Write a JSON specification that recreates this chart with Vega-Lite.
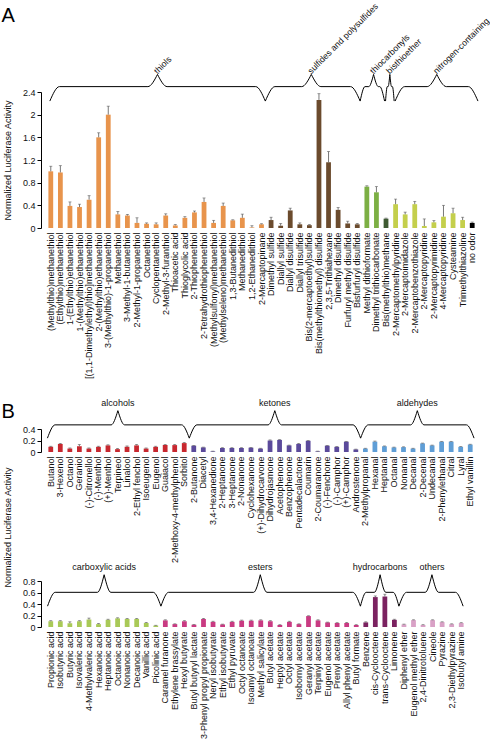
{
 "$schema": "https://vega.github.io/schema/vega-lite/v6.json",
 "background": "white",
 "padding": {"left": 1, "top": 2, "right": 0, "bottom": 0},
 "config": {
  "font": "Liberation Sans",
  "view": {"stroke": null},
  "axis": {"labelFont": "Liberation Sans", "labelFontSize": 9, "labelColor": "#111", "titleFont": "Liberation Sans", "titleFontSize": 9, "titleFontWeight": "normal", "titleColor": "#111", "domainColor": "#000", "tickColor": "#000", "grid": false, "labelOverlap": false},
  "axisY": {"labelOverlap": false, "labelFlush": false, "labelBound": false},
  "title": {"font": "Liberation Sans", "fontSize": 20, "fontWeight": "normal", "anchor": "start", "color": "#000"}
 },
 "datasets": {
  "A": [
   {"name":"(Methylthio)methanethiol","group":"thiols","value":1.0,"err":1.09},
   {"name":"(Ethylthio)methanethiol","group":"thiols","value":0.98,"err":1.1},
   {"name":"1-(Ethylthio)ethanethiol","group":"thiols","value":0.39,"err":0.46},
   {"name":"1-(Methylthio)ethanethiol","group":"thiols","value":0.37,"err":0.42},
   {"name":"[(1,1-Dimethylethyl)thio]methanethiol","group":"thiols","value":0.5,"err":0.57},
   {"name":"2-(Methylthio)ethanethiol","group":"thiols","value":1.6,"err":1.68},
   {"name":"3-(Methylthio)-1-propanethiol","group":"thiols","value":2.0,"err":2.15},
   {"name":"Methanethiol","group":"thiols","value":0.24,"err":0.29},
   {"name":"3-Methyl-1-butanethiol","group":"thiols","value":0.22,"err":0.24},
   {"name":"2-Methyl-1-propanethiol","group":"thiols","value":0.09,"err":0.18},
   {"name":"Octanethiol","group":"thiols","value":0.075,"err":0.09},
   {"name":"Cyclopentanethiol","group":"thiols","value":0.065,"err":0.09},
   {"name":"2-Methyl-3-furanthiol","group":"thiols","value":0.22,"err":0.25},
   {"name":"Thioacetic acid","group":"thiols","value":0.045,"err":0.06},
   {"name":"Thioglycolic acid","group":"thiols","value":0.18,"err":0.2},
   {"name":"2-Thiophenethiol","group":"thiols","value":0.275,"err":0.3},
   {"name":"2-Tetrahydrothiophenethiol","group":"thiols","value":0.46,"err":0.53},
   {"name":"(Methylsulfonyl)methanethiol","group":"thiols","value":0.09,"err":0.135},
   {"name":"(Methylseleno)methanethiol","group":"thiols","value":0.39,"err":0.44},
   {"name":"1,3-Butanedithiol","group":"thiols","value":0.135,"err":0.145},
   {"name":"Methanedithiol","group":"thiols","value":0.18,"err":0.245},
   {"name":"1,2-Ethanedithiol","group":"thiols","value":0.01,"err":0.04},
   {"name":"2-Mercaptopinane","group":"thiols","value":0.065,"err":0.075},
   {"name":"Dimethyl sulfide","group":"sulfides and polysulfides","value":0.14,"err":0.19},
   {"name":"Diallyl sulfide","group":"sulfides and polysulfides","value":0.04,"err":0.08},
   {"name":"Diallyl disulfide","group":"sulfides and polysulfides","value":0.31,"err":0.35},
   {"name":"Diallyl trisulfide","group":"sulfides and polysulfides","value":0.065,"err":0.09},
   {"name":"Bis(2-mercaptoethyl)sulfide","group":"sulfides and polysulfides","value":0.05,"err":0.06},
   {"name":"Bis(methylthiomethyl) disulfide","group":"sulfides and polysulfides","value":2.26,"err":2.37},
   {"name":"2,3,5-Trithiahexane","group":"sulfides and polysulfides","value":1.16,"err":1.35},
   {"name":"Dimethyl disulfide","group":"sulfides and polysulfides","value":0.32,"err":0.36},
   {"name":"Furfuryl methyl disulfide","group":"sulfides and polysulfides","value":0.08,"err":0.12},
   {"name":"Bisfurfuryl disulfide","group":"sulfides and polysulfides","value":0.065,"err":0.08},
   {"name":"Methyl dithioformate","group":"thiocarbonyls","value":0.73,"err":0.745},
   {"name":"Dimethyl trithiocarbonate","group":"thiocarbonyls","value":0.63,"err":0.73},
   {"name":"Bis(methylthio)methane","group":"bisthioether","value":0.165,"err":0.175},
   {"name":"2-Mercaptomethylpyridine","group":"nitrogen-containing","value":0.42,"err":0.51},
   {"name":"2-Mercaptoimidazole","group":"nitrogen-containing","value":0.24,"err":0.28},
   {"name":"2-Mercaptobenzothiazole","group":"nitrogen-containing","value":0.42,"err":0.47},
   {"name":"2-Mercaptopyridine","group":"nitrogen-containing","value":0.035,"err":0.16},
   {"name":"2-Mercaptopyrimidine","group":"nitrogen-containing","value":0.1,"err":0.13},
   {"name":"4-Mercaptopyridine","group":"nitrogen-containing","value":0.2,"err":0.4},
   {"name":"Cysteamine","group":"nitrogen-containing","value":0.26,"err":0.35},
   {"name":"Trimethylthiazoline","group":"nitrogen-containing","value":0.14,"err":0.19},
   {"name":"no odor","group":"no odor","value":0.09,"err":0.105}
  ],
  "B1": [
   {"name":"Butanol","group":"alcohols","value":0.09,"err":0.1},
   {"name":"3-Hexenol","group":"alcohols","value":0.14,"err":0.15},
   {"name":"Octanol","group":"alcohols","value":0.06,"err":0.07},
   {"name":"Geraniol","group":"alcohols","value":0.1,"err":0.13},
   {"name":"(-)-Citronellol","group":"alcohols","value":0.06,"err":0.07},
   {"name":"(-)-Menthol","group":"alcohols","value":0.09,"err":0.1},
   {"name":"(+)-Menthol","group":"alcohols","value":0.115,"err":0.125},
   {"name":"Terpineol","group":"alcohols","value":0.05,"err":0.06},
   {"name":"Linalool","group":"alcohols","value":0.09,"err":0.105},
   {"name":"2-Ethyl fenchol","group":"alcohols","value":0.115,"err":0.13},
   {"name":"Isoeugenol","group":"alcohols","value":0.06,"err":0.07},
   {"name":"Eugenol","group":"alcohols","value":0.09,"err":0.1},
   {"name":"Guaiacol","group":"alcohols","value":0.12,"err":0.13},
   {"name":"2-Methoxy-4-methylphenol","group":"alcohols","value":0.12,"err":0.13},
   {"name":"Sorbitol","group":"alcohols","value":0.155,"err":0.165},
   {"name":"2-Butanone","group":"ketones","value":0.11,"err":0.115},
   {"name":"Diacetyl","group":"ketones","value":0.08,"err":0.085},
   {"name":"3,4-Hexanedione","group":"ketones","value":0.01,"err":0.015},
   {"name":"2-Heptanone","group":"ketones","value":0.07,"err":0.075},
   {"name":"3-Heptanone","group":"ketones","value":0.07,"err":0.075},
   {"name":"2-Nonanone","group":"ketones","value":0.07,"err":0.075},
   {"name":"Cyclohexanone","group":"ketones","value":0.075,"err":0.08},
   {"name":"(+)-Dihydrocarvone","group":"ketones","value":0.06,"err":0.065},
   {"name":"Dihydrojasmone","group":"ketones","value":0.2,"err":0.21},
   {"name":"Acetophenone","group":"ketones","value":0.21,"err":0.215},
   {"name":"Benzophenone","group":"ketones","value":0.115,"err":0.12},
   {"name":"Pentadecalactone","group":"ketones","value":0.14,"err":0.15},
   {"name":"Coumarin","group":"ketones","value":0.195,"err":0.2},
   {"name":"2-Coumaranone","group":"ketones","value":0.01,"err":0.015},
   {"name":"(-)-Fenchone","group":"ketones","value":0.11,"err":0.115},
   {"name":"(-)-Camphor","group":"ketones","value":0.09,"err":0.095},
   {"name":"(+)-Camphor","group":"ketones","value":0.18,"err":0.185},
   {"name":"Androstenone","group":"ketones","value":0.045,"err":0.05},
   {"name":"2-Methylpropanal","group":"aldehydes","value":0.06,"err":0.065},
   {"name":"Hexanal","group":"aldehydes","value":0.18,"err":0.19},
   {"name":"Heptanal","group":"aldehydes","value":0.1,"err":0.105},
   {"name":"Octanal","group":"aldehydes","value":0.08,"err":0.085},
   {"name":"Nonanal","group":"aldehydes","value":0.085,"err":0.09},
   {"name":"Decanal","group":"aldehydes","value":0.06,"err":0.065},
   {"name":"2-Decenal","group":"aldehydes","value":0.15,"err":0.155},
   {"name":"Undecanal","group":"aldehydes","value":0.115,"err":0.12},
   {"name":"2-Phenylethanal","group":"aldehydes","value":0.18,"err":0.185},
   {"name":"Citral","group":"aldehydes","value":0.18,"err":0.185},
   {"name":"Lyral","group":"aldehydes","value":0.09,"err":0.095},
   {"name":"Ethyl vanillin","group":"aldehydes","value":0.13,"err":0.135}
  ],
  "B2": [
   {"name":"Propionic acid","group":"carboxylic acids","value":0.1,"err":0.11},
   {"name":"Isobutyric acid","group":"carboxylic acids","value":0.1,"err":0.11},
   {"name":"Butyric acid","group":"carboxylic acids","value":0.065,"err":0.09},
   {"name":"Isovaleric acid","group":"carboxylic acids","value":0.1,"err":0.11},
   {"name":"4-Methylvaleric acid","group":"carboxylic acids","value":0.13,"err":0.155},
   {"name":"Hexanoic acid","group":"carboxylic acids","value":0.05,"err":0.06},
   {"name":"Heptanoic acid","group":"carboxylic acids","value":0.125,"err":0.135},
   {"name":"Octanoic acid","group":"carboxylic acids","value":0.15,"err":0.16},
   {"name":"Nonanoic acid","group":"carboxylic acids","value":0.14,"err":0.15},
   {"name":"Decanoic acid","group":"carboxylic acids","value":0.14,"err":0.15},
   {"name":"Vanillic acid","group":"carboxylic acids","value":0.07,"err":0.08},
   {"name":"Picolinic acid","group":"carboxylic acids","value":0.025,"err":0.03},
   {"name":"Caramel furanone","group":"esters","value":0.115,"err":0.125},
   {"name":"Ethylene brassylate","group":"esters","value":0.05,"err":0.055},
   {"name":"Hexyl butyrate","group":"esters","value":0.1,"err":0.11},
   {"name":"Butyl butyryl lactate","group":"esters","value":0.04,"err":0.045},
   {"name":"3-Phenyl propyl propionate","group":"esters","value":0.14,"err":0.15},
   {"name":"Neryl isobutyrate","group":"esters","value":0.09,"err":0.1},
   {"name":"Ethyl isobutyrate","group":"esters","value":0.045,"err":0.05},
   {"name":"Ethyl pyruvate","group":"esters","value":0.09,"err":0.1},
   {"name":"Octyl octanoate","group":"esters","value":0.11,"err":0.12},
   {"name":"Isoamyl octanoate","group":"esters","value":0.11,"err":0.12},
   {"name":"Methyl salicylate","group":"esters","value":0.115,"err":0.125},
   {"name":"Butyl acetate","group":"esters","value":0.1,"err":0.11},
   {"name":"Heptyl acetate","group":"esters","value":0.035,"err":0.04},
   {"name":"Octyl acetate","group":"esters","value":0.09,"err":0.1},
   {"name":"Isobornyl acetate","group":"esters","value":0.05,"err":0.055},
   {"name":"Geranyl acetate","group":"esters","value":0.19,"err":0.195},
   {"name":"Terpinyl acetate","group":"esters","value":0.115,"err":0.125},
   {"name":"Eugenol acetate","group":"esters","value":0.08,"err":0.085},
   {"name":"Prenyl acetate","group":"esters","value":0.07,"err":0.075},
   {"name":"Allyl phenyl acetate","group":"esters","value":0.07,"err":0.08},
   {"name":"Butyl formate","group":"esters","value":0.035,"err":0.04},
   {"name":"Benzene","group":"hydrocarbons","value":0.08,"err":0.09},
   {"name":"cis-Cyclooctene","group":"hydrocarbons","value":0.52,"err":0.54},
   {"name":"trans-Cyclooctene","group":"hydrocarbons","value":0.53,"err":0.57},
   {"name":"Limonene","group":"hydrocarbons","value":0.125,"err":0.135},
   {"name":"Diphenyl ether","group":"others","value":0.045,"err":0.05},
   {"name":"Eugenol methyl ether","group":"others","value":0.12,"err":0.125},
   {"name":"2,4-Dinitrotoluene","group":"others","value":0.035,"err":0.04},
   {"name":"Cineole","group":"others","value":0.12,"err":0.125},
   {"name":"Pyrazine","group":"others","value":0.085,"err":0.09},
   {"name":"2,3-Diethylpyrazine","group":"others","value":0.05,"err":0.055},
   {"name":"Isobutyl amine","group":"others","value":0.07,"err":0.075}
  ],
  "Abr": [
   {"seg":"t-L","bx":0.4,"by":2.24},{"seg":"t-L","bx":1.4,"by":2.495},{"seg":"t-L","bx":10.64,"by":2.495},{"seg":"t-L","bx":11.64,"by":2.71},
   {"seg":"t-R","bx":11.64,"by":2.71},{"seg":"t-R","bx":12.64,"by":2.495},{"seg":"t-R","bx":21.9,"by":2.495},{"seg":"t-R","bx":22.9,"by":2.24},
   {"seg":"s-L","bx":22.9,"by":2.24},{"seg":"s-L","bx":23.9,"by":2.495},{"seg":"s-L","bx":26.7,"by":2.495},{"seg":"s-L","bx":27.7,"by":2.71},
   {"seg":"s-R","bx":27.7,"by":2.71},{"seg":"s-R","bx":28.7,"by":2.495},{"seg":"s-R","bx":31.8,"by":2.495},{"seg":"s-R","bx":32.8,"by":2.24},
   {"seg":"c-L","bx":32.8,"by":2.24},{"seg":"c-L","bx":33.3,"by":2.495},{"seg":"c-L","bx":33.7,"by":2.495},{"seg":"c-L","bx":34.2,"by":2.71},
   {"seg":"c-R","bx":34.2,"by":2.71},{"seg":"c-R","bx":34.7,"by":2.495},{"seg":"c-R","bx":34.85,"by":2.495},{"seg":"c-R","bx":35.35,"by":2.24},
   {"seg":"b-L","bx":35.45,"by":2.24},{"seg":"b-L","bx":35.63,"by":2.495},{"seg":"b-L","bx":35.72,"by":2.495},{"seg":"b-L","bx":35.9,"by":2.71},
   {"seg":"b-R","bx":35.9,"by":2.71},{"seg":"b-R","bx":36.08,"by":2.495},{"seg":"b-R","bx":36.17,"by":2.495},{"seg":"b-R","bx":36.35,"by":2.24},
   {"seg":"n-L","bx":36.45,"by":2.24},{"seg":"n-L","bx":37.45,"by":2.495},{"seg":"n-L","bx":39.8,"by":2.495},{"seg":"n-L","bx":40.8,"by":2.71},
   {"seg":"n-R","bx":40.8,"by":2.71},{"seg":"n-R","bx":41.8,"by":2.495},{"seg":"n-R","bx":44.1,"by":2.495},{"seg":"n-R","bx":45.1,"by":2.24}
  ],
  "Alab": [
   {"label":"thiols","bx":11.64,"by":2.71},
   {"label":"sulfides and polysulfides","bx":27.7,"by":2.71},
   {"label":"thiocarbonyls","bx":34.2,"by":2.71},
   {"label":"bisthioether","bx":35.9,"by":2.71},
   {"label":"nitrogen-containing","bx":40.8,"by":2.71}
  ],
  "B1br": [
   {"seg":"a-L","bx":0.15,"by":0.241},{"seg":"a-L","bx":0.95,"by":0.472},{"seg":"a-L","bx":6.84,"by":0.472},{"seg":"a-L","bx":7.54,"by":0.719},
   {"seg":"a-R","bx":7.54,"by":0.719},{"seg":"a-R","bx":8.24,"by":0.472},{"seg":"a-R","bx":14.23,"by":0.472},{"seg":"a-R","bx":15.03,"by":0.241},
   {"seg":"k-L","bx":15.03,"by":0.241},{"seg":"k-L","bx":15.83,"by":0.472},{"seg":"k-L","bx":23.3,"by":0.472},{"seg":"k-L","bx":24.0,"by":0.719},
   {"seg":"k-R","bx":24.0,"by":0.719},{"seg":"k-R","bx":24.7,"by":0.472},{"seg":"k-R","bx":32.2,"by":0.472},{"seg":"k-R","bx":33.0,"by":0.241},
   {"seg":"d-L","bx":33.0,"by":0.241},{"seg":"d-L","bx":33.8,"by":0.472},{"seg":"d-L","bx":38.25,"by":0.472},{"seg":"d-L","bx":38.95,"by":0.719},
   {"seg":"d-R","bx":38.95,"by":0.719},{"seg":"d-R","bx":39.65,"by":0.472},{"seg":"d-R","bx":44.1,"by":0.472},{"seg":"d-R","bx":44.9,"by":0.241}
  ],
  "B1lab": [
   {"label":"alcohols","bx":7.54,"by":0.719},
   {"label":"ketones","bx":24.0,"by":0.719},
   {"label":"aldehydes","bx":38.95,"by":0.719}
  ],
  "B2br": [
   {"seg":"c-L","bx":0.16,"by":0.362},{"seg":"c-L","bx":0.96,"by":0.603},{"seg":"c-L","bx":5.39,"by":0.603},{"seg":"c-L","bx":6.09,"by":0.909},
   {"seg":"c-R","bx":6.09,"by":0.909},{"seg":"c-R","bx":6.79,"by":0.603},{"seg":"c-R","bx":11.24,"by":0.603},{"seg":"c-R","bx":12.04,"by":0.362},
   {"seg":"e-L","bx":12.04,"by":0.362},{"seg":"e-L","bx":12.84,"by":0.603},{"seg":"e-L","bx":21.75,"by":0.603},{"seg":"e-L","bx":22.45,"by":0.909},
   {"seg":"e-R","bx":22.45,"by":0.909},{"seg":"e-R","bx":23.15,"by":0.603},{"seg":"e-R","bx":32.14,"by":0.603},{"seg":"e-R","bx":32.94,"by":0.362},
   {"seg":"h-L","bx":32.94,"by":0.362},{"seg":"h-L","bx":33.54,"by":0.603},{"seg":"h-L","bx":34.4,"by":0.603},{"seg":"h-L","bx":35.0,"by":0.909},
   {"seg":"h-R","bx":35.0,"by":0.909},{"seg":"h-R","bx":35.6,"by":0.603},{"seg":"h-R","bx":36.37,"by":0.603},{"seg":"h-R","bx":36.97,"by":0.362},
   {"seg":"o-L","bx":36.97,"by":0.362},{"seg":"o-L","bx":37.77,"by":0.603},{"seg":"o-L","bx":39.73,"by":0.603},{"seg":"o-L","bx":40.43,"by":0.909},
   {"seg":"o-R","bx":40.43,"by":0.909},{"seg":"o-R","bx":41.13,"by":0.603},{"seg":"o-R","bx":42.9,"by":0.603},{"seg":"o-R","bx":43.7,"by":0.362}
  ],
  "B2lab": [
   {"label":"carboxylic acids","bx":6.09,"by":0.909},
   {"label":"esters","bx":22.45,"by":0.909},
   {"label":"hydrocarbons","bx":35.0,"by":0.909},
   {"label":"others","bx":40.43,"by":0.909}
  ]
 },
 "bounds": "flush",
 "spacing": 201,
 "vconcat": [
  {
   "width": 431, "height": 136,
   "title": {"text": "A", "dx": -2, "dy": 28},
   "resolve": {"scale": {"x": "independent"}},
   "layer": [
    {
     "data": {"name": "A"},
     "encoding": {
      "x": {"field": "name", "type": "nominal", "sort": null, "scale": {"paddingInner": 0.5, "paddingOuter": 0.25},
            "axis": {"title": null, "labelAngle": -90, "domain": false, "ticks": false, "labelPadding": 4, "labelOverlap": false}},
      "color": {"field": "group", "type": "nominal", "legend": null,
        "scale": {"domain": ["thiols","sulfides and polysulfides","thiocarbonyls","bisthioether","nitrogen-containing","no odor","alcohols","ketones","aldehydes","carboxylic acids","esters","hydrocarbons","others"],
                  "range": ["#E8944C","#6B4B2D","#7CAF44","#3E5A32","#C4CF4C","#000000","#C8282F","#5B4A9B","#5F9ED6","#A9C957","#C93A82","#7B2260","#D9A1C6"]}}
     },
     "layer": [
      {"mark": {"type": "bar"},
       "encoding": {"y": {"field": "value", "type": "quantitative", "scale": {"domain": [0, 2.4], "nice": false},
         "axis": {"values": [0, 0.4, 0.8, 1.2, 1.6, 2, 2.4], "tickCount": 7, "format": "~g", "labelOverlap": false, "title": "Normalized Luciferase Activity", "offset": 5, "tickSize": 4, "titlePadding": 10}}}},
      {"mark": {"type": "rule", "strokeWidth": 0.8},
       "encoding": {"y": {"field": "value", "type": "quantitative", "scale": {"domain": [0, 2.4], "nice": false},
         "axis": {"values": [0, 0.4, 0.8, 1.2, 1.6, 2, 2.4], "tickCount": 7, "format": "~g", "labelOverlap": false, "title": "Normalized Luciferase Activity", "offset": 5, "tickSize": 4, "titlePadding": 10}}, "y2": {"field": "err"}, "color": {"value": "#555"}}},
      {"mark": {"type": "tick", "orient": "horizontal", "size": 3, "thickness": 0.8},
       "encoding": {"y": {"field": "err", "type": "quantitative", "scale": {"domain": [0, 2.4], "nice": false},
         "axis": {"values": [0, 0.4, 0.8, 1.2, 1.6, 2, 2.4], "tickCount": 7, "format": "~g", "labelOverlap": false, "title": "Normalized Luciferase Activity", "offset": 5, "tickSize": 4, "titlePadding": 10}}, "color": {"value": "#555"}}}
     ]
    },
    {
     "data": {"name": "Abr"},
     "mark": {"type": "line", "interpolate": "monotone", "color": "#000", "strokeWidth": 1, "clip": false},
     "encoding": {
      "x": {"field": "bx", "type": "quantitative", "scale": {"domain": [0, 45], "nice": false, "zero": false}, "axis": null},
      "y": {"field": "by", "type": "quantitative", "scale": {"domain": [0, 2.4], "nice": false},
         "axis": {"values": [0, 0.4, 0.8, 1.2, 1.6, 2, 2.4], "tickCount": 7, "format": "~g", "labelOverlap": false, "title": "Normalized Luciferase Activity", "offset": 5, "tickSize": 4, "titlePadding": 10}},
      "detail": {"field": "seg"}
     }
    },
    {
     "data": {"name": "Alab"},
     "mark": {"type": "text", "angle": -45, "align": "left", "baseline": "alphabetic", "dx": 0, "fontSize": 8.8, "color": "#111"},
     "encoding": {
      "x": {"field": "bx", "type": "quantitative", "scale": {"domain": [0, 45], "nice": false, "zero": false}, "axis": null},
      "y": {"field": "by", "type": "quantitative", "scale": {"domain": [0, 2.4], "nice": false},
         "axis": {"values": [0, 0.4, 0.8, 1.2, 1.6, 2, 2.4], "tickCount": 7, "format": "~g", "labelOverlap": false, "title": "Normalized Luciferase Activity", "offset": 5, "tickSize": 4, "titlePadding": 10}},
      "text": {"field": "label"}
     }
    }
   ]
  },
  {
   "bounds": "flush",
   "spacing": 129,
   "vconcat": [
    {
     "width": 429, "height": 23,
     "title": {"text": "B", "dx": -21, "dy": 27},
     "resolve": {"scale": {"x": "independent"}},
     "layer": [
      {
       "data": {"name": "B1"},
       "encoding": {
        "x": {"field": "name", "type": "nominal", "sort": null, "scale": {"paddingInner": 0.5, "paddingOuter": 0.25},
              "axis": {"title": null, "labelAngle": -90, "domain": false, "ticks": false, "labelPadding": 4, "labelOverlap": false}},
        "color": {"field": "group", "type": "nominal", "legend": null}
       },
       "layer": [
        {"mark": {"type": "bar"},
         "encoding": {"y": {"field": "value", "type": "quantitative", "scale": {"domain": [0, 0.4], "nice": false},
           "axis": {"values": [0, 0.2, 0.4], "tickCount": 3, "format": "~g", "labelOverlap": false, "title": null, "offset": 5, "tickSize": 4}}}},
        {"mark": {"type": "rule", "strokeWidth": 0.8},
         "encoding": {"y": {"field": "value", "type": "quantitative", "scale": {"domain": [0, 0.4], "nice": false},
           "axis": {"values": [0, 0.2, 0.4], "tickCount": 3, "format": "~g", "labelOverlap": false, "title": null, "offset": 5, "tickSize": 4}}, "y2": {"field": "err"}, "color": {"value": "#555"}}},
        {"mark": {"type": "tick", "orient": "horizontal", "size": 3, "thickness": 0.8},
         "encoding": {"y": {"field": "err", "type": "quantitative", "scale": {"domain": [0, 0.4], "nice": false},
           "axis": {"values": [0, 0.2, 0.4], "tickCount": 3, "format": "~g", "labelOverlap": false, "title": null, "offset": 5, "tickSize": 4}}, "color": {"value": "#555"}}}
       ]
      },
      {
       "data": {"name": "B1br"},
       "mark": {"type": "line", "interpolate": "monotone", "color": "#000", "strokeWidth": 1, "clip": false},
       "encoding": {
        "x": {"field": "bx", "type": "quantitative", "scale": {"domain": [0, 45], "nice": false, "zero": false}, "axis": null},
        "y": {"field": "by", "type": "quantitative", "scale": {"domain": [0, 0.4], "nice": false},
           "axis": {"values": [0, 0.2, 0.4], "tickCount": 3, "format": "~g", "labelOverlap": false, "title": null, "offset": 5, "tickSize": 4}},
        "detail": {"field": "seg"}
       }
      },
      {
       "data": {"name": "B1lab"},
       "mark": {"type": "text", "align": "center", "baseline": "alphabetic", "dy": -5, "fontSize": 9, "color": "#111"},
       "encoding": {
        "x": {"field": "bx", "type": "quantitative", "scale": {"domain": [0, 45], "nice": false, "zero": false}, "axis": null},
        "y": {"field": "by", "type": "quantitative", "scale": {"domain": [0, 0.4], "nice": false},
           "axis": {"values": [0, 0.2, 0.4], "tickCount": 3, "format": "~g", "labelOverlap": false, "title": null, "offset": 5, "tickSize": 4}},
        "text": {"field": "label"}
       }
      }
     ]
    },
    {
     "width": 420, "height": 46,
     "resolve": {"scale": {"x": "independent"}},
     "layer": [
      {
       "data": {"name": "B2"},
       "encoding": {
        "x": {"field": "name", "type": "nominal", "sort": null, "scale": {"paddingInner": 0.5, "paddingOuter": 0.25},
              "axis": {"title": null, "labelAngle": -90, "domain": false, "ticks": false, "labelPadding": 4, "labelOverlap": false}},
        "color": {"field": "group", "type": "nominal", "legend": null}
       },
       "layer": [
        {"mark": {"type": "bar"},
         "encoding": {"y": {"field": "value", "type": "quantitative", "scale": {"domain": [0, 0.8], "nice": false},
           "axis": {"values": [0, 0.2, 0.4, 0.6, 0.8], "tickCount": 5, "format": "~g", "labelOverlap": false, "title": "Normalized Luciferase Activity", "titleY": -54, "titlePadding": 10, "offset": 5, "tickSize": 4}}}},
        {"mark": {"type": "rule", "strokeWidth": 0.8},
         "encoding": {"y": {"field": "value", "type": "quantitative", "scale": {"domain": [0, 0.8], "nice": false},
           "axis": {"values": [0, 0.2, 0.4, 0.6, 0.8], "tickCount": 5, "format": "~g", "labelOverlap": false, "title": "Normalized Luciferase Activity", "titleY": -54, "titlePadding": 10, "offset": 5, "tickSize": 4}}, "y2": {"field": "err"}, "color": {"value": "#555"}}},
        {"mark": {"type": "tick", "orient": "horizontal", "size": 3, "thickness": 0.8},
         "encoding": {"y": {"field": "err", "type": "quantitative", "scale": {"domain": [0, 0.8], "nice": false},
           "axis": {"values": [0, 0.2, 0.4, 0.6, 0.8], "tickCount": 5, "format": "~g", "labelOverlap": false, "title": "Normalized Luciferase Activity", "titleY": -54, "titlePadding": 10, "offset": 5, "tickSize": 4}}, "color": {"value": "#555"}}}
       ]
      },
      {
       "data": {"name": "B2br"},
       "mark": {"type": "line", "interpolate": "monotone", "color": "#000", "strokeWidth": 1, "clip": false},
       "encoding": {
        "x": {"field": "bx", "type": "quantitative", "scale": {"domain": [0, 44], "nice": false, "zero": false}, "axis": null},
        "y": {"field": "by", "type": "quantitative", "scale": {"domain": [0, 0.8], "nice": false},
           "axis": {"values": [0, 0.2, 0.4, 0.6, 0.8], "tickCount": 5, "format": "~g", "labelOverlap": false, "title": "Normalized Luciferase Activity", "titleY": -54, "titlePadding": 10, "offset": 5, "tickSize": 4}},
        "detail": {"field": "seg"}
       }
      },
      {
       "data": {"name": "B2lab"},
       "mark": {"type": "text", "align": "center", "baseline": "alphabetic", "dy": -5, "fontSize": 9, "color": "#111"},
       "encoding": {
        "x": {"field": "bx", "type": "quantitative", "scale": {"domain": [0, 44], "nice": false, "zero": false}, "axis": null},
        "y": {"field": "by", "type": "quantitative", "scale": {"domain": [0, 0.8], "nice": false},
           "axis": {"values": [0, 0.2, 0.4, 0.6, 0.8], "tickCount": 5, "format": "~g", "labelOverlap": false, "title": "Normalized Luciferase Activity", "titleY": -54, "titlePadding": 10, "offset": 5, "tickSize": 4}},
        "text": {"field": "label"}
       }
      }
     ]
    }
   ]
  }
 ]
}
